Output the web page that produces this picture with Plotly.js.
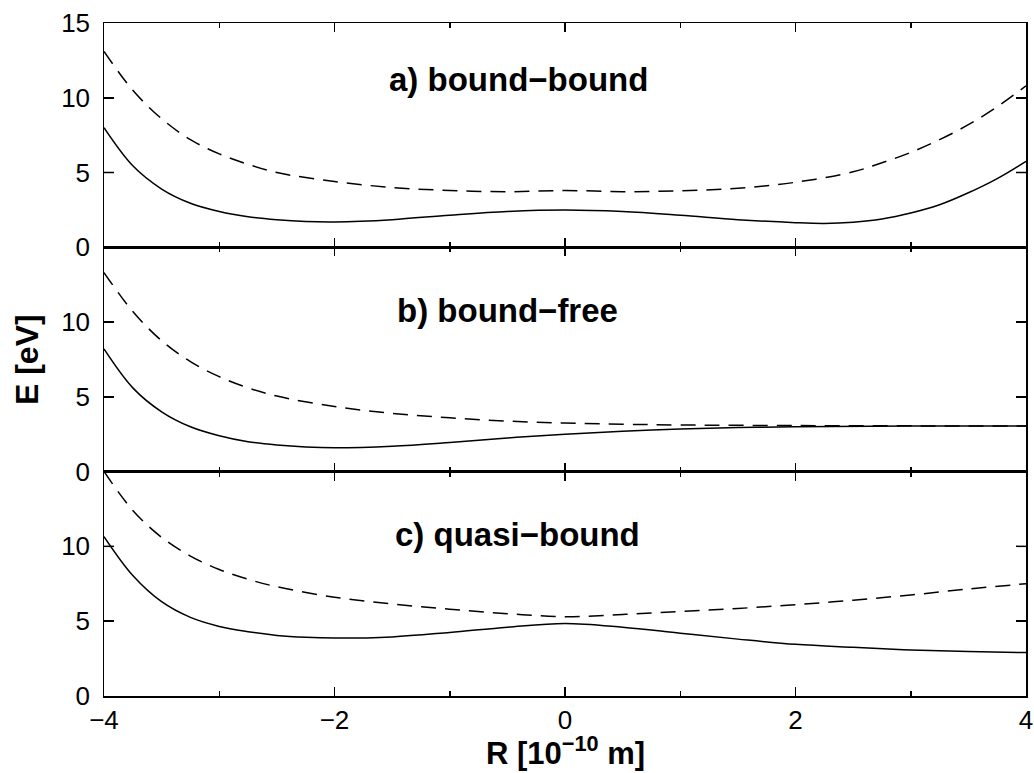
<!DOCTYPE html>
<html>
<head>
<meta charset="utf-8">
<script src="https://cdn.plot.ly/plotly-3.0.1.min.js"></script>
<style>html,body{margin:0;padding:0;background:#fff;}#chart{width:1034px;height:773px;}</style>
</head>
<body>
<div id="chart"></div>
<script>
// Panel a) bound-bound
var xA_solid = [-4,-3.75,-3.5,-3.25,-3,-2.75,-2.5,-2.25,-2,-1.5,-1,-0.5,0,0.5,1,1.5,2,2.25,2.5,2.75,3,3.25,3.5,3.75,4];
var aSolid   = [8.0,5.45,3.9,2.95,2.4,2.05,1.85,1.73,1.7,1.85,2.15,2.4,2.5,2.4,2.15,1.85,1.65,1.6,1.68,1.9,2.3,2.85,3.65,4.6,5.75];
var xA_dash  = [-4,-3.75,-3.5,-3.25,-3,-2.75,-2.5,-2,-1.5,-1,-0.5,0,0.5,1,1.5,2,2.5,2.75,3,3.25,3.5,3.75,4];
var aDashed  = [13.1,10.5,8.6,7.2,6.25,5.55,5.0,4.4,4.0,3.8,3.72,3.8,3.72,3.78,3.95,4.35,5.05,5.65,6.35,7.2,8.2,9.4,10.8];

// Panel b) bound-free
var xB_solid = [-4,-3.75,-3.5,-3.25,-3,-2.75,-2.5,-2.25,-2,-1.5,-1,-0.5,0,0.5,1,1.5,2,3,4];
var bSolid   = [8.2,5.6,4.0,3.0,2.4,2.0,1.78,1.65,1.6,1.7,1.95,2.25,2.5,2.7,2.85,2.95,3.0,3.05,3.05];
var xB_dash  = [-4,-3.75,-3.5,-3.25,-3,-2.75,-2.5,-2,-1.5,-1,-0.5,0,0.5,1,2,3,4];
var bDashed  = [13.3,10.7,8.75,7.35,6.35,5.6,5.05,4.35,3.9,3.6,3.38,3.25,3.17,3.12,3.08,3.06,3.05];

// Panel c) quasi-bound
var xC_solid = [-4,-3.75,-3.5,-3.25,-3,-2.75,-2.5,-2.25,-2,-1.5,-1,-0.5,0,0.5,1,1.5,2,2.5,3,3.5,4];
var cSolid   = [10.65,8.05,6.3,5.25,4.65,4.3,4.05,3.92,3.87,3.95,4.25,4.6,4.85,4.6,4.2,3.8,3.45,3.25,3.08,2.97,2.9];
var xC_dash  = [-4,-3.75,-3.5,-3.25,-3,-2.75,-2.5,-2,-1.5,-1,-0.5,0,0.5,1,1.5,2,2.5,3,3.5,4];
var cDashed  = [15.0,12.4,10.6,9.35,8.45,7.8,7.3,6.6,6.15,5.8,5.5,5.3,5.45,5.65,5.85,6.1,6.4,6.75,7.15,7.5];

var panelLabels = ['a) bound\u2212bound', 'b) bound\u2212free', 'c) quasi\u2212bound'];
var xTitle = 'R [10<sup>\u221210</sup> m]';
var yTitle = 'E [eV]';
var xRange = [-4, 4];
var yRangeTop = [0, 15];
var yRangeOther = [0, 14.99];
var yTickMarks = [5, 10];

function solid(x,y,xa,ya){return {x:x,y:y,xaxis:xa,yaxis:ya,type:'scatter',mode:'lines',line:{color:'black',width:1.5,shape:'spline',smoothing:1},hoverinfo:'skip',showlegend:false};}
function dashed(x,y,xa,ya){return {x:x,y:y,xaxis:xa,yaxis:ya,type:'scatter',mode:'lines',line:{color:'black',width:1.5,dash:'15px,9px',shape:'spline',smoothing:1},hoverinfo:'skip',showlegend:false};}

var data = [
  dashed(xA_dash,aDashed,'x','y'), solid(xA_solid,aSolid,'x','y'),
  dashed(xB_dash,bDashed,'x2','y2'), solid(xB_solid,bSolid,'x2','y2'),
  dashed(xC_dash,cDashed,'x3','y3'), solid(xC_solid,cSolid,'x3','y3')
];

var fam = 'Liberation Sans, Arial, Helvetica, sans-serif';
function xax(anchor, labels){
  return {anchor:anchor, range:xRange, tickmode:'linear', tick0:0, dtick:2, showticklabels:labels,
    ticks:'inside', ticklen:9, tickwidth:1.5, tickcolor:'black', mirror:'ticks',
    minor:{tickmode:'linear', tick0:1, dtick:2, ticks:'inside', ticklen:5, tickwidth:1.5, tickcolor:'black'},
    showline:true, linewidth:1.5, linecolor:'black', showgrid:false, zeroline:false,
    tickfont:{family:fam, size:26, color:'black'}};
}
function yax(dom, rng, anchor){
  return {domain:dom, anchor:anchor, range:rng, tickmode:'linear', tick0:0, dtick:5, ticks:'inside', ticklen:10, tickwidth:1.5, tickcolor:'black',
    mirror:'ticks', showline:true, linewidth:1.5, linecolor:'black', showgrid:false, zeroline:false,
    ticksuffix:'\u00a0',
    tickfont:{family:fam, size:26, color:'black'}};
}

// inward y tick marks on both sides of every panel, placed through the panel's own axes
var panels = [['x','y'],['x2','y2'],['x3','y3']];
var shapes = [];
panels.forEach(function(p){
  yTickMarks.forEach(function(v){
    shapes.push({type:'line', xref:p[0], yref:p[1], xsizemode:'pixel', xanchor:xRange[0], x0:0, x1:10, y0:v, y1:v, line:{color:'black', width:1.5}, layer:'above'});
    shapes.push({type:'line', xref:p[0], yref:p[1], xsizemode:'pixel', xanchor:xRange[1], x0:-10, x1:0, y0:v, y1:v, line:{color:'black', width:1.5}, layer:'above'});
  });
});

var d1 = 1/3, d2 = 2/3;
var layout = {
  width:1034, height:773,
  margin:{l:104, r:8, t:23, b:77},
  paper_bgcolor:'white', plot_bgcolor:'white',
  font:{family:fam, color:'black'},
  xaxis: xax('y', false),
  xaxis2: xax('y2', false),
  xaxis3: xax('y3', true),
  yaxis: yax([d2,1], yRangeTop, 'x'),
  yaxis2: yax([d1,d2], yRangeOther, 'x2'),
  yaxis3: yax([0,d1], yRangeOther, 'x3'),
  shapes: shapes,
  annotations:[
    {xref:'x', yref:'y', x:-0.4, y:11.2, text:panelLabels[0], showarrow:false, font:{family:fam, size:33, color:'black', weight:'bold'}},
    {xref:'x2', yref:'y2', x:-0.5, y:10.8, text:panelLabels[1], showarrow:false, font:{family:fam, size:33, color:'black', weight:'bold'}},
    {xref:'x3', yref:'y3', x:-0.41, y:10.8, text:panelLabels[2], showarrow:false, font:{family:fam, size:33, color:'black', weight:'bold'}},
    {xref:'paper', yref:'paper', x:-0.084, y:0.5, text:yTitle, textangle:-90, showarrow:false, xanchor:'center', yanchor:'middle', font:{family:fam, size:32, color:'black', weight:'bold'}},
    {xref:'paper', yref:'paper', x:0.5, y:-0.082, text:xTitle, showarrow:false, xanchor:'center', yanchor:'middle', font:{family:fam, size:31, color:'black', weight:'bold'}}
  ]
};
Plotly.newPlot('chart', data, layout, {staticPlot:true, displayModeBar:false});
</script>
</body>
</html>
